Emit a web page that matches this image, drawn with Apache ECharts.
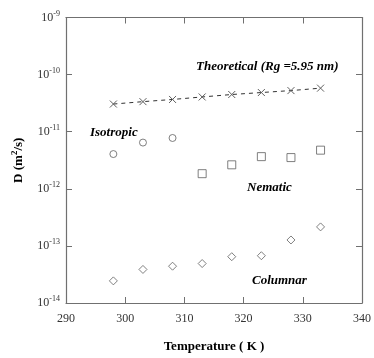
<!DOCTYPE html>
<html>
<head>
<meta charset="utf-8">
<script src="https://cdn.jsdelivr.net/npm/echarts@6/dist/echarts.min.js"></script>
<style>
  html, body { margin: 0; padding: 0; background: #fff; }
  #chart { width: 374px; height: 358px; }
</style>
</head>
<body>
<div id="chart"></div>
<script>
const temps = [298, 303, 308, 313, 318, 323, 328, 333];
const theoretical = [3.05e-11, 3.36e-11, 3.67e-11, 4.06e-11, 4.48e-11, 4.85e-11, 5.25e-11, 5.79e-11];
const isoTemps = [298, 303, 308];
const isotropic = [4.06e-12, 6.45e-12, 7.76e-12];
const nemTemps = [313, 318, 323, 328, 333];
const nematic = [1.84e-12, 2.63e-12, 3.66e-12, 3.52e-12, 4.75e-12];
const columnar = [2.44e-14, 3.87e-14, 4.41e-14, 4.91e-14, 6.47e-14, 6.73e-14, 1.27e-13, 2.15e-13];
const xTicks = [290, 300, 310, 320, 330, 340];
const yExponents = [-14, -13, -12, -11, -10, -9];

const serif = "'Liberation Serif', 'DejaVu Serif', serif";
const axisGray = "#707070";
const markGray = "#606060";

const pairs = (xs, ys) => xs.map((x, i) => [x, ys[i]]);

const chart = echarts.init(document.getElementById("chart"), null, { renderer: "canvas" });

const frameX = {
  type: "value", min: xTicks[0], max: xTicks[xTicks.length - 1], interval: 10,
  axisLine: { lineStyle: { color: axisGray, width: 1.2 } },
  axisTick: { inside: true, length: 6, lineStyle: { color: axisGray } },
  splitLine: { show: false }
};
const frameY = {
  type: "log", logBase: 10,
  min: Math.pow(10, yExponents[0]), max: Math.pow(10, yExponents[yExponents.length - 1]),
  axisLine: { lineStyle: { color: axisGray, width: 1.2 } },
  axisTick: { inside: true, length: 6, lineStyle: { color: axisGray } },
  minorTick: { show: false },
  splitLine: { show: false }
};

const open = (color) => ({ color: "#fff", borderColor: color, borderWidth: 1 });

chart.setOption({
  animation: false,
  backgroundColor: "#fff",
  grid: { left: 66, right: 8, top: 17.5, bottom: 49.5 },
  xAxis: [
    Object.assign({}, frameX, {
      position: "bottom",
      axisLabel: { color: "#333", fontFamily: serif, fontSize: 12, margin: 10 },
      name: "Temperature ( K )",
      nameLocation: "middle",
      nameGap: 37,
      nameTextStyle: { color: "#000", fontFamily: serif, fontSize: 13, fontWeight: "bold" }
    }),
    Object.assign({}, frameX, { position: "top", axisLabel: { show: false } })
  ],
  yAxis: [
    Object.assign({}, frameY, {
      position: "left",
      axisLabel: {
        fontFamily: serif, margin: 6,
        formatter: (v) => "{b|10}{s|" + Math.round(Math.log10(v)) + "}",
        rich: {
          b: { fontFamily: serif, fontSize: 12, color: "#333" },
          s: { fontFamily: serif, fontSize: 8, color: "#333", verticalAlign: "top", padding: [0, 0, 8, 0] }
        }
      },
      name: "{t|D (m}{u|2}{t|/s)}",
      nameLocation: "middle",
      nameGap: 39,
      nameRotate: 90,
      nameTextStyle: {
        rich: {
          t: { fontFamily: serif, fontSize: 13, fontWeight: "bold", color: "#000" },
          u: { fontFamily: serif, fontSize: 9, fontWeight: "bold", color: "#000", padding: [0, 0, 8, 0] }
        }
      }
    }),
    Object.assign({}, frameY, { position: "right", axisLabel: { show: false } })
  ],
  graphic: [
    { type: "text", left: 196, top: 60, style: { text: "Theoretical (Rg =5.95 nm)", font: "italic bold 13px " + serif, fill: "#000" } },
    { type: "text", left: 90, top: 126, style: { text: "Isotropic", font: "italic bold 13px " + serif, fill: "#000" } },
    { type: "text", left: 247, top: 181, style: { text: "Nematic", font: "italic bold 13px " + serif, fill: "#000" } },
    { type: "text", left: 252, top: 274, style: { text: "Columnar", font: "italic bold 13px " + serif, fill: "#000" } }
  ],
  series: [
    {
      name: "Theoretical", type: "line", data: pairs(temps, theoretical),
      symbol: "path://M0,0L10,10M10,0L0,10", symbolSize: 7,
      itemStyle: { color: "none", borderColor: markGray, borderWidth: 1 },
      lineStyle: { color: "#333", width: 1, type: [4, 4] }
    },
    {
      name: "Isotropic", type: "scatter", data: pairs(isoTemps, isotropic),
      symbol: "circle", symbolSize: 7, itemStyle: open(markGray)
    },
    {
      name: "Nematic", type: "scatter", data: pairs(nemTemps, nematic),
      symbol: "rect", symbolSize: 8, itemStyle: open(markGray)
    },
    {
      name: "Columnar", type: "scatter", data: pairs(temps, columnar),
      symbol: "diamond", symbolSize: [8, 8], itemStyle: open(markGray)
    }
  ]
});
</script>
</body>
</html>
